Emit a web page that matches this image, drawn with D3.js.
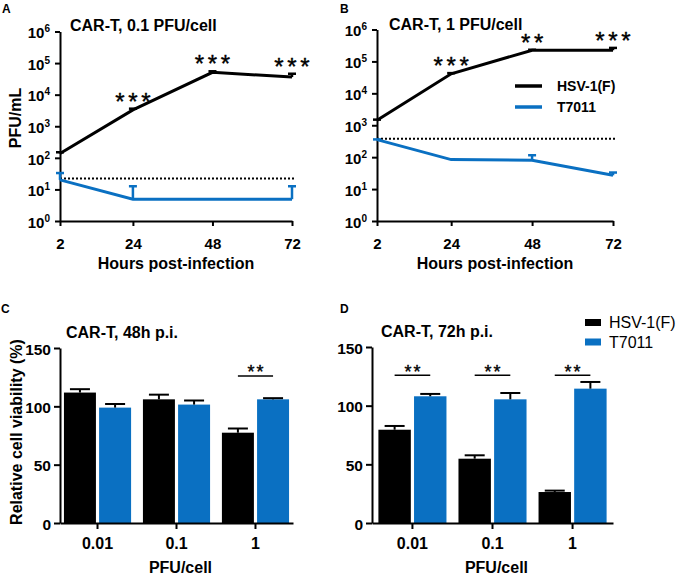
<!DOCTYPE html>
<html><head><meta charset="utf-8">
<script src="https://cdn.jsdelivr.net/npm/d3@7"></script>
<style>
body{margin:0;background:#fff}
svg{display:block}
text{font-family:Arial,"Liberation Sans",sans-serif;fill:#000}
</style>
</head><body>
<svg id="c" width="680" height="576"></svg>
<script>
// ---------- DATA ----------
const hours = [2, 24, 48, 72];
const seriesNames = ["HSV-1(F)", "T7011"];
const seriesColors = ["#000000", "#0a70c2"];
const logTicks = [1, 10, 100, 1000, 10000, 100000, 1000000];

// Panel A: CAR-T, 0.1 PFU/cell (PFU/mL)
const hsvA = [138, 3300, 51000, 36000];
const hsvAUpper = [150, 3600, 55000, 46000];
const t7011A = [20, 4.9, 4.9, 4.9];
const t7011AUpper = [33, 12.6, 4.9, 12.6];
const limitA = 22;
const starsA = ["", "***", "***", "***"];

// Panel B: CAR-T, 1 PFU/cell (PFU/mL)
const hsvB = [1440, 41000, 224000, 224000];
const hsvBUpper = [1500, 43000, 232000, 265000];
const t7011B = [355, 84, 80, 27];
const t7011BUpper = [360, 84, 115, 33];
const limitB = 380;
const starsB = ["", "***", "**", "***"];

// Panels C / D: relative cell viability (%)
const doses = ["0.01", "0.1", "1"];
const barTicks = [0, 50, 100, 150];
const hsvC = [111.8, 106, 77.4];
const hsvCErr = [2.9, 4, 3.6];
const t7011C = [98.9, 101.5, 106];
const t7011CErr = [3.1, 3.5, 1];
const sigC = ["", "", "**"];
const hsvD = [79.5, 54.8, 26.4];
const hsvDErr = [3.2, 2.9, 1.2];
const t7011D = [108, 105.4, 114.5];
const t7011DErr = [2, 5.4, 5.7];
const sigD = ["**", "**", "**"];
const SIG_LEVEL = 126;

// ---------- DRAW ----------
const svg = d3.select("#c");

function panelLabel(t, x, y) {
  svg.append("text").attr("x", x).attr("y", y).attr("font-size", 12)
    .attr("font-weight", "bold").text(t);
}

function styleAxis(g) {
  g.selectAll("path.domain").attr("stroke", "#000").attr("stroke-width", 2);
  g.selectAll(".tick line").attr("stroke", "#000").attr("stroke-width", 2);
  g.selectAll("text").attr("font-weight", "bold").attr("fill", "#000");
}

function drawStars(g, str, cx, cy, size, spacing) {
  const n = str.length;
  for (let k = 0; k < n; k++) {
    g.append("text")
      .attr("x", cx + (k - (n - 1) / 2) * spacing)
      .attr("y", cy + size * 0.58)
      .attr("text-anchor", "middle")
      .attr("font-size", size)
      .attr("stroke", "#000").attr("stroke-width", 0.4)
      .text(str[k]);
  }
}

function linePanel(o) {
  const g = svg.append("g");
  const x = d3.scaleLinear().domain([2, 72]).range([o.x0, o.x1]);
  const y = d3.scaleLog().domain([1, 1e6]).range([o.yBot, o.yTop]);

  const ya = g.append("g").attr("transform", `translate(${o.x0},0)`)
    .call(d3.axisLeft(y).tickValues(logTicks).tickSize(5).tickPadding(5).tickSizeOuter(0));
  ya.selectAll(".tick text").each(function (d) {
    const t = d3.select(this);
    t.text("10").attr("font-size", 15).attr("dy", "0.42em");
    t.append("tspan").attr("dy", -6).attr("font-size", 10).text(Math.round(Math.log10(d)));
  });
  styleAxis(ya);

  const xa = g.append("g").attr("transform", `translate(0,${o.yBot})`)
    .call(d3.axisBottom(x).tickValues(hours).tickSize(5).tickPadding(12).tickSizeOuter(0));
  xa.selectAll(".tick text").attr("font-size", 15);
  styleAxis(xa);

  g.append("text").attr("x", (o.x0 + o.x1) / 2).attr("y", o.yBot + 48)
    .attr("text-anchor", "middle").attr("font-size", 16).attr("font-weight", "bold")
    .text("Hours post-infection");

  g.append("text").attr("x", o.titleX).attr("y", o.titleY)
    .attr("font-size", 16).attr("font-weight", "bold").text(o.title);

  if (o.yTitle) {
    g.append("text").attr("transform", `translate(21,118) rotate(-90)`)
      .attr("text-anchor", "middle").attr("font-size", 16).attr("font-weight", "bold")
      .text(o.yTitle);
  }

  g.append("line").attr("x1", o.x0).attr("x2", o.x1 + 3)
    .attr("y1", y(o.limit)).attr("y2", y(o.limit))
    .attr("stroke", "#000").attr("stroke-width", 2).attr("stroke-dasharray", "2,2");

  const line = d3.line().x((d, i) => x(hours[i])).y(d => y(d));
  [[o.t7011, o.t7011Up, seriesColors[1]], [o.hsv, o.hsvUp, seriesColors[0]]].forEach(([m, u, c]) => {
    g.append("path").datum(m).attr("d", line).attr("fill", "none")
      .attr("stroke", c).attr("stroke-width", 3);
    m.forEach((v, i) => {
      if (u[i] > v) {
        const xx = x(hours[i]);
        g.append("line").attr("x1", xx).attr("x2", xx).attr("y1", y(v)).attr("y2", y(u[i]))
          .attr("stroke", c).attr("stroke-width", 2.5);
        g.append("line").attr("x1", xx - 4).attr("x2", xx + 4).attr("y1", y(u[i])).attr("y2", y(u[i]))
          .attr("stroke", c).attr("stroke-width", 2.5);
      }
    });
  });

  o.stars.forEach((s, i) => {
    if (s) drawStars(g, s, x(hours[i]), y(o.hsvUp[i]) - 13, 24, 13);
  });

  if (o.legend) {
    const lg = g.append("g");
    seriesNames.forEach((nm, i) => {
      const yy = 86 + i * 21;
      lg.append("line").attr("x1", 515).attr("x2", 542).attr("y1", yy).attr("y2", yy)
        .attr("stroke", seriesColors[i]).attr("stroke-width", 3.5);
      lg.append("text").attr("x", 557).attr("y", yy + 5).attr("font-size", 14)
        .attr("font-weight", "bold").text(nm);
    });
  }
}

function barPanel(o) {
  const g = svg.append("g");
  const x = d3.scaleBand().domain(doses).range([o.x0, o.x1])
    .paddingInner(0.15).paddingOuter(o.po);
  const xs = d3.scaleBand().domain(seriesNames).range([0, x.bandwidth()]).paddingInner(0.09);
  const y = d3.scaleLinear().domain([0, 150]).range([o.yBot, o.yTop]);

  const vals = [o.hsv, o.t7011];
  const errs = [o.hsvErr, o.t7011Err];
  seriesNames.forEach((nm, s) => {
    doses.forEach((d, i) => {
      const bx = x(d) + xs(nm);
      g.append("rect").attr("x", bx).attr("width", xs.bandwidth())
        .attr("y", y(vals[s][i])).attr("height", y(0) - y(vals[s][i]))
        .attr("fill", seriesColors[s]);
      const cx = bx + xs.bandwidth() / 2;
      const top = y(vals[s][i] + errs[s][i]);
      g.append("line").attr("x1", cx).attr("x2", cx).attr("y1", y(vals[s][i])).attr("y2", top)
        .attr("stroke", "#000").attr("stroke-width", 2);
      g.append("line").attr("x1", cx - 10).attr("x2", cx + 10).attr("y1", top).attr("y2", top)
        .attr("stroke", "#000").attr("stroke-width", 2);
    });
  });

  const ya = g.append("g").attr("transform", `translate(${o.x0},0)`)
    .call(d3.axisLeft(y).tickValues(barTicks).tickSize(6).tickPadding(3).tickSizeOuter(0));
  ya.selectAll(".tick text").attr("font-size", 15.5).attr("dy", "0.4em");
  styleAxis(ya);

  const xa = g.append("g").attr("transform", `translate(0,${o.yBot})`)
    .call(d3.axisBottom(x).tickSize(6).tickPadding(9).tickSizeOuter(0));
  xa.selectAll(".tick text").attr("font-size", 16);
  styleAxis(xa);

  g.append("text").attr("x", (o.x0 + o.x1) / 2 + 4).attr("y", o.yBot + 50)
    .attr("text-anchor", "middle").attr("font-size", 16).attr("font-weight", "bold")
    .text("PFU/cell");

  g.append("text").attr("x", o.titleX).attr("y", o.titleY)
    .attr("font-size", 16).attr("font-weight", "bold").text(o.title);

  if (o.yTitle) {
    g.append("text").attr("transform", `translate(22,432) rotate(-90)`)
      .attr("text-anchor", "middle").attr("font-size", 16).attr("font-weight", "bold")
      .text(o.yTitle);
  }

  o.sig.forEach((s, i) => {
    if (!s) return;
    const d = doses[i];
    const xa1 = x(d) + xs(seriesNames[0]) + xs.bandwidth() / 2;
    const xa2 = x(d) + xs(seriesNames[1]) + xs.bandwidth() / 2;
    const yy = y(SIG_LEVEL);
    g.append("line").attr("x1", xa1).attr("x2", xa2).attr("y1", yy).attr("y2", yy)
      .attr("stroke", "#000").attr("stroke-width", 1.5);
    drawStars(g, s, (xa1 + xa2) / 2, yy - 8, 18, 9);
  });

  if (o.legend) {
    seriesNames.forEach((nm, i) => {
      const yy = 322.5 + i * 19.5;
      g.append("rect").attr("x", 585).attr("y", yy - 3.5).attr("width", 16).attr("height", 7)
        .attr("fill", seriesColors[i]);
      g.append("text").attr("x", 609).attr("y", yy + 5.5).attr("font-size", 16).text(nm);
    });
  }
}

panelLabel("A", 2, 13);
panelLabel("B", 340, 13);
panelLabel("C", 1, 313);
panelLabel("D", 340, 313);

linePanel({x0: 60, x1: 292, yTop: 31.5, yBot: 221, hsv: hsvA, hsvUp: hsvAUpper,
  t7011: t7011A, t7011Up: t7011AUpper, limit: limitA, stars: starsA,
  title: "CAR-T, 0.1 PFU/cell", titleX: 70, titleY: 31, yTitle: "PFU/mL"});
linePanel({x0: 377, x1: 613, yTop: 29.5, yBot: 221, hsv: hsvB, hsvUp: hsvBUpper,
  t7011: t7011B, t7011Up: t7011BUpper, limit: limitB, stars: starsB,
  title: "CAR-T, 1 PFU/cell", titleX: 389, titleY: 29.5, legend: true});

barPanel({x0: 60, x1: 293, po: 0.05, yTop: 348, yBot: 523, hsv: hsvC, hsvErr: hsvCErr,
  t7011: t7011C, t7011Err: t7011CErr, sig: sigC, title: "CAR-T, 48h p.i.",
  titleX: 66, titleY: 338, yTitle: "Relative cell viability (%)"});
barPanel({x0: 372, x1: 613, po: 0.08, yTop: 347, yBot: 523, hsv: hsvD, hsvErr: hsvDErr,
  t7011: t7011D, t7011Err: t7011DErr, sig: sigD, title: "CAR-T, 72h p.i.",
  titleX: 381, titleY: 336.5, legend: true});
</script>
</body></html>
